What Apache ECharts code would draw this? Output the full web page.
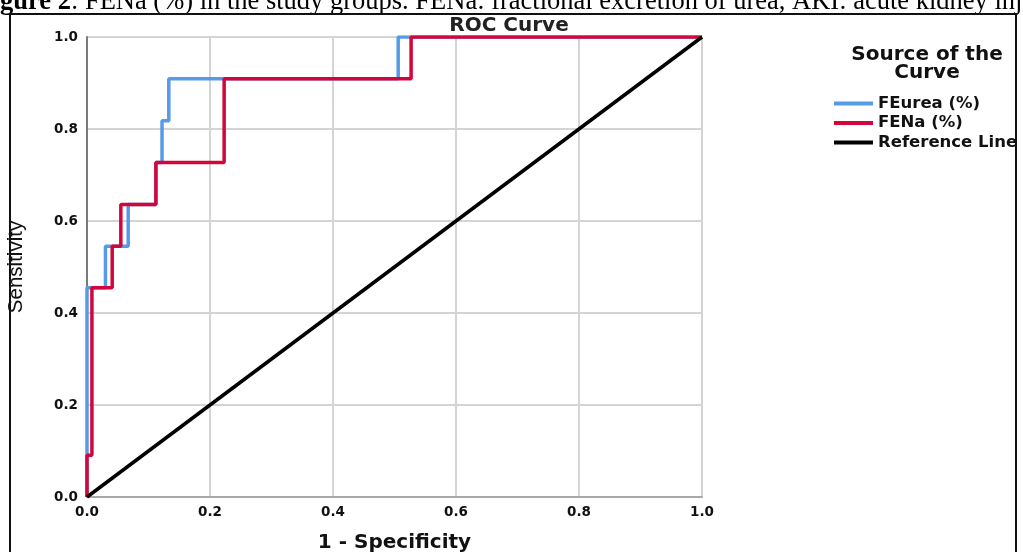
<!DOCTYPE html>
<html>
<head>
<meta charset="utf-8">
<script src="https://cdn.jsdelivr.net/npm/echarts@6/dist/echarts.min.js"></script>
<style>
html,body{margin:0;padding:0;background:#fff;}
#c{width:1023px;height:552px;}
</style>
</head>
<body>
<div id="c"></div>
<script>
// ---- data ----
const xTicks = [0, 0.2, 0.4, 0.6, 0.8, 1.0];
const yTicks = [0, 0.2, 0.4, 0.6, 0.8, 1.0];
const seriesNames = ['FEurea (%)', 'FENa (%)', 'Reference Line'];
// ROC corner points (1 - specificity, sensitivity)
const feureaFpr = [0, 0, 0.030, 0.030, 0.067, 0.067, 0.112, 0.112, 0.122, 0.122, 0.133, 0.133, 0.506, 0.506, 1.0];
const feureaTpr = [0, 0.455, 0.455, 0.545, 0.545, 0.636, 0.636, 0.727, 0.727, 0.818, 0.818, 0.909, 0.909, 1.0, 1.0];
const fenaFpr = [0, 0, 0.008, 0.008, 0.041, 0.041, 0.055, 0.055, 0.112, 0.112, 0.223, 0.223, 0.527, 0.527, 1.0];
const fenaTpr = [0, 0.091, 0.091, 0.455, 0.455, 0.545, 0.545, 0.636, 0.636, 0.727, 0.727, 0.909, 0.909, 1.0, 1.0];
const refFpr = [0, 1];
const refTpr = [0, 1];

const zip = (a, b) => a.map((v, i) => [v, b[i]]);

const chart = echarts.init(document.getElementById('c'), null, {renderer: 'canvas'});
const boldFont = 'DejaVu Sans';
chart.setOption({
  backgroundColor: '#fff',
  animation: false,
  title: {
    text: 'ROC Curve',
    left: 504,
    top: 11,
    textAlign: 'center',
    textStyle: {fontFamily: boldFont, fontWeight: 'bold', fontSize: 20, color: '#222'}
  },
  legend: {
    orient: 'vertical',
    left: 829,
    top: 90,
    itemWidth: 39,
    itemHeight: 4,
    itemGap: 2.5,
    icon: 'rect',
    data: seriesNames,
    textStyle: {fontFamily: boldFont, fontWeight: 'bold', fontSize: 16.5, color: '#111'}
  },
  grid: {left: 87, right: 321, top: 37, bottom: 55, containLabel: false, outerBoundsMode: 'none'},
  xAxis: {
    type: 'value', min: 0, max: 1, interval: 0.2,
    name: '1 - Specificity', nameLocation: 'middle', nameGap: 36,
    nameTextStyle: {fontFamily: boldFont, fontWeight: 'bold', fontSize: 20, color: '#111'},
    axisLine: {show: true, lineStyle: {color: '#a8a8a8', width: 2}},
    axisTick: {show: false},
    splitLine: {show: true, lineStyle: {color: '#d4d4d4', width: 2}},
    axisLabel: {margin: 8, fontFamily: boldFont, fontWeight: 'bold', fontSize: 13.5, color: '#111',
      formatter: v => xTicks.includes(v) ? v.toFixed(1) : ''}
  },
  yAxis: {
    type: 'value', min: 0, max: 1, interval: 0.2,
    name: 'Sensitivity', nameLocation: 'middle', nameGap: 60,
    nameTextStyle: {fontFamily: "'Liberation Sans Narrow', 'Liberation Sans', Arial", fontSize: 20.5, color: '#111'},
    axisLine: {show: true, lineStyle: {color: '#7a7a7a', width: 2}},
    axisTick: {show: false},
    splitLine: {show: true, lineStyle: {color: '#d4d4d4', width: 2}},
    axisLabel: {margin: 9, fontFamily: boldFont, fontWeight: 'bold', fontSize: 13.5, color: '#111',
      formatter: v => yTicks.includes(v) ? v.toFixed(1) : ''}
  },
  series: [
    {name: seriesNames[0], type: 'line', data: zip(feureaFpr, feureaTpr), showSymbol: false,
     lineStyle: {color: '#559be8', width: 3.5}, itemStyle: {color: '#559be8'}, z: 2},
    {name: seriesNames[1], type: 'line', data: zip(fenaFpr, fenaTpr), showSymbol: false,
     lineStyle: {color: '#d3063b', width: 3.5}, itemStyle: {color: '#d3063b'}, z: 3},
    {name: seriesNames[2], type: 'line', data: zip(refFpr, refTpr), showSymbol: false,
     lineStyle: {color: '#000', width: 3.5}, itemStyle: {color: '#000'}, z: 4}
  ],
  graphic: [
    {type: 'rect', shape: {x: 10, y: 14, width: 1006, height: 560},
     style: {fill: 'none', stroke: '#111', lineWidth: 2}, z: 100, silent: true},
    {type: 'text', x: 927, y: 46, style: {
      text: 'Source of the\nCurve', align: 'center', verticalAlign: 'top',
      fontFamily: boldFont, fontWeight: 'bold', fontSize: 20, lineHeight: 18, fill: '#111'}},
    {type: 'text', x: 0, y: 2, style: {
      text: '{b|gure 2}: FENa (%) in the study groups. FENa: fractional excretion of urea, AKI: acute kidney inj',
      fontFamily: "'Liberation Serif', 'Times New Roman', serif", fontSize: 26.5, fill: '#000',
      verticalAlign: 'middle',
      rich: {b: {fontFamily: "'Liberation Serif', serif", fontWeight: 'bold', fontSize: 26.5, fill: '#000'}}
    }}
  ]
});
</script>
</body>
</html>
